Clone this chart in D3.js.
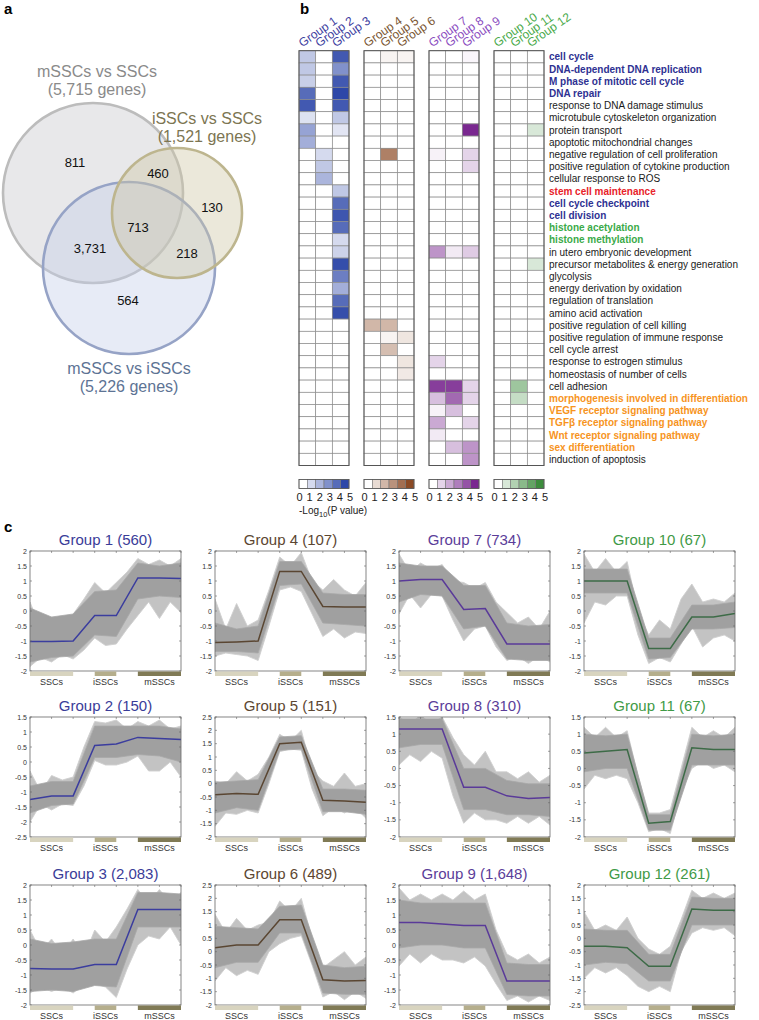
<!DOCTYPE html>
<html><head><meta charset="utf-8">
<script src="https://cdn.jsdelivr.net/npm/d3@7"></script>
<style>body{margin:0;background:#fff} svg{display:block} text{font-family:"Liberation Sans",Arial,sans-serif}</style>
</head><body>
<svg id="fig" width="759" height="1020"></svg>
<script>
// ---------------- DATA ----------------
// Panel a: Venn
const vennSets = ["mSSCs vs SSCs", "iSSCs vs SSCs", "mSSCs vs iSSCs"];
const vennTotals = [5715, 1521, 5226];
const vennCounts = [811, 460, 130, 713, 3731, 218, 564];

// Panel b: heatmap
const heatGroups = ["Group 1","Group 2","Group 3","Group 4","Group 5","Group 6","Group 7","Group 8","Group 9","Group 10","Group 11","Group 12"];
const goTerms = ["cell cycle","DNA-dependent DNA replication","M phase of mitotic cell cycle","DNA repair","response to DNA damage stimulus","microtubule cytoskeleton organization","protein transport","apoptotic mitochondrial changes","negative regulation of cell proliferation","positive regulation of cytokine production","cellular response to ROS","stem cell maintenance","cell cycle checkpoint","cell division","histone acetylation","histone methylation","in utero embryonic development","precursor metabolites & energy generation","glycolysis","energy derivation by oxidation","regulation of translation","amino acid activation","positive regulation of cell killing","positive regulation of immune response","cell cycle arrest","response to estrogen stimulus","homeostasis of number of cells","cell adhesion","morphogenesis involved in differentiation","VEGF receptor signaling pathway","TGF\u03b2 receptor signaling pathway","Wnt receptor signaling pathway","sex differentiation","induction of apoptosis"];
const termClass = ["b","b","b","b","k","k","k","k","k","k","k","r","b","b","g","g","k","k","k","k","k","k","k","k","k","k","k","k","o","o","o","o","o","k"];
const heatValues = [
 [1.5,0,4.5, 0,0.3,0.3, 0,0,0.2, 0,0,0],
 [1.5,0,3.0, 0,0,0, 0,0,0, 0,0,0],
 [1.3,0,4.5, 0,0,0, 0,0,0, 0,0,0],
 [4.0,0,5.0, 0,0,0, 0,0,0, 0,0,0],
 [4.5,0,4.5, 0,0,0, 0,0,0, 0,0,0],
 [0.8,0,1.5, 0,0,0, 0,0,0, 0,0,0],
 [2.5,0,0.7, 0,0,0, 0,0,5.0, 0,0,1.0],
 [2.2,0,0, 0,0,0, 0,0,0, 0,0,0],
 [0,1.0,0, 0,3.5,0, 0.3,0,1.0, 0,0,0],
 [0,1.5,0, 0,0,0, 0,0,1.0, 0,0,0],
 [0,2.0,0, 0,0,0, 0,0,0, 0,0,0],
 [0,0,1.5, 0,0,0, 0,0,0, 0,0,0],
 [0,0,4.0, 0,0,0, 0,0,0, 0,0,0],
 [0,0,4.6, 0,0,0, 0,0,0, 0,0,0],
 [0,0,4.0, 0,0,0, 0,0,0, 0,0,0],
 [0,0,1.0, 0,0,0, 0,0,0, 0,0,0],
 [0,0,1.2, 0,0,0, 2.5,0.5,1.2, 0,0,0],
 [0,0,4.8, 0,0,0, 0,0,0, 0,0,1.0],
 [0,0,3.5, 0,0,0, 0,0,0, 0,0,0],
 [0,0,2.2, 0,0,0, 0,0,0, 0,0,0],
 [0,0,4.0, 0,0,0, 0,0,0, 0,0,0],
 [0,0,4.8, 0,0,0, 0,0,0, 0,0,0],
 [0,0,0, 2.0,2.0,0, 0,0,0, 0,0,0],
 [0,0,0, 0,0.3,0.7, 0,0,0, 0,0,0],
 [0,0,0, 0,1.8,0, 0,0,0, 0,0,0],
 [0,0,0, 0,0,0.7, 1.0,0,0, 0,0,0],
 [0,0,0, 0,0,0.6, 0,0,0, 0,0,0],
 [0,0,0, 0,0,0, 4.5,4.5,1.0, 0,2.5,0],
 [0,0,0, 0,0,0, 1.5,3.5,1.0, 0,1.5,0],
 [0,0,0, 0,0,0, 0.3,1.5,0, 0,0,0],
 [0,0,0, 0,0,0, 2.0,0,1.0, 0,0,0],
 [0,0,0, 0,0,0, 0.5,0,0, 0,0,0],
 [0,0,0, 0,0,0, 0,1.5,2.5, 0,0,0],
 [0,0,0, 0,0,0, 0,0,2.5, 0,0,0]
];
const legendTicks = [0,1,2,3,4,5];

// Panel c: expression profiles
const profileTitles = ["Group 1 (560)","Group 2 (150)","Group 3 (2,083)","Group 4 (107)","Group 5 (151)","Group 6 (489)","Group 7 (734)","Group 8 (310)","Group 9 (1,648)","Group 10 (67)","Group 11 (67)","Group 12 (261)"];
const sampleGroups = ["SSCs","iSSCs","mSSCs"];
const yDomains = [[-2,2],[-2.5,1.5],[-2,2],[-2,2],[-2,2.5],[-2,2.5],[-2,2],[-2,1.5],[-2,2],[-2,2],[-2,1.5],[-2.5,2]];
const meanLines = [
 [-1.02,-1.02,-1.0,-0.15,-0.15,1.1,1.1,1.08],
 [-1.25,-1.13,-1.13,0.55,0.6,0.82,0.78,0.75],
 [-0.78,-0.8,-0.8,-0.65,-0.65,1.18,1.18,1.18],
 [-1.05,-1.03,-1.0,1.32,1.32,0.15,0.13,0.13],
 [-0.42,-0.37,-0.4,1.5,1.55,-0.62,-0.65,-0.7],
 [0.15,0.25,0.25,1.2,1.2,-1.05,-1.1,-1.08],
 [1.0,1.05,1.05,0.05,0.08,-1.1,-1.1,-1.1],
 [1.15,1.15,1.15,-0.55,-0.55,-0.8,-0.88,-0.85],
 [0.75,0.75,0.7,0.65,0.65,-1.2,-1.2,-1.2],
 [1.0,1.0,1.0,-1.25,-1.25,-0.2,-0.2,-0.08],
 [0.45,0.5,0.55,-1.6,-1.55,0.6,0.55,0.55],
 [-0.3,-0.3,-0.35,-1.05,-1.05,1.1,1.05,1.05]
];
const envHigh = [
 [0.3,-0.6,-0.2,-0.5,-0.1,0.4,0.95,0.6,0.95,1.3,1.75,1.55,1.7,1.5,1.75],
 [-0.3,-1.0,-0.45,-0.6,-0.5,0.5,1.35,1.3,1.4,1.1,1.35,1.2,1.4,1.1,1.2],
 [0.5,-0.2,0.2,-0.3,0.2,-0.4,0.5,0.1,0.6,1.2,1.85,1.4,1.85,1.4,1.75],
 [0.4,-0.6,0.25,-0.5,-0.3,0.7,1.8,1.5,1.95,1.0,0.7,1.05,0.7,0.5,0.95],
 [0.1,0.0,0.45,0.1,0.35,1.0,1.85,1.6,2.0,0.5,0.1,-0.1,0.4,-0.1,0.0],
 [1.4,0.7,1.25,0.8,1.0,1.1,1.9,1.5,2.0,0.5,-0.6,-0.3,0.0,-0.5,-0.2],
 [1.9,1.3,1.6,1.4,1.55,1.0,0.95,0.75,0.95,0.3,-0.05,-0.4,-0.2,-0.6,0.0],
 [1.5,1.3,1.55,1.3,1.5,0.9,0.4,0.1,0.5,-0.1,-0.1,-0.3,-0.1,-0.4,-0.2],
 [1.9,1.5,1.7,1.5,1.7,1.5,1.8,1.5,1.7,0.5,-0.3,-0.5,-0.3,-0.6,-0.4],
 [1.9,1.3,1.75,1.3,1.65,0.0,-0.8,-0.3,-0.6,0.4,0.9,0.3,0.4,0.3,0.6],
 [1.2,0.9,1.2,0.9,1.1,-0.2,-1.3,-1.3,-1.2,0.0,1.2,0.9,1.1,0.9,1.2],
 [1.0,0.3,0.5,0.3,0.8,0.0,-0.4,-0.6,-0.3,0.7,1.8,1.5,1.7,1.5,1.7]
];
const envLow = [
 [-1.85,-1.55,-1.7,-1.45,-1.6,-1.3,-0.9,-1.15,-1.1,-0.6,-0.15,0.3,-0.25,0.3,-0.05],
 [-2.0,-1.4,-1.6,-1.4,-1.45,-0.8,0.05,-0.1,-0.1,0.0,0.2,-0.3,-0.3,0.0,-0.5],
 [-1.6,-1.4,-1.55,-1.4,-1.6,-1.3,-1.3,-1.4,-1.75,-0.8,0.0,0.3,0.2,0.6,0.0],
 [-1.5,-1.4,-1.45,-1.5,-1.65,-0.5,0.7,0.8,0.65,-0.1,-0.85,-0.6,-0.9,-0.7,-0.75],
 [-1.6,-1.1,-1.15,-1.0,-1.1,0.0,1.2,1.3,1.25,-0.2,-1.2,-0.9,-1.1,-0.9,-1.3],
 [-1.1,-0.6,-0.9,-0.7,-0.85,0.0,0.3,0.5,0.6,-0.5,-1.7,-1.5,-1.8,-1.5,-1.75],
 [-0.1,0.55,0.1,0.55,0.5,-0.3,-1.0,-0.6,-0.5,-1.2,-1.65,-1.5,-1.75,-1.5,-1.7],
 [0.1,0.4,0.2,0.5,0.3,-0.8,-1.6,-1.3,-1.5,-1.5,-1.6,-1.4,-1.6,-1.4,-1.65],
 [-0.7,-0.3,-0.6,-0.3,-0.5,-0.5,-0.6,-0.4,-0.7,-1.3,-1.85,-1.7,-1.9,-1.7,-1.85],
 [-0.4,0.3,0.2,0.5,0.5,-0.8,-1.75,-1.55,-1.7,-1.1,-0.5,-1.2,-0.9,-0.8,-1.0],
 [-0.6,-0.2,-0.3,-0.2,-0.3,-1.0,-1.85,-1.75,-1.9,-0.7,0.0,0.2,0.0,0.1,-0.1],
 [-1.5,-1.1,-1.3,-1.1,-1.4,-1.8,-2.0,-1.8,-2.0,-0.5,0.2,0.4,0.3,0.4,0.1]
];
const coreHigh = [
 [0.1,-0.2,-0.1,0.65,0.7,1.6,1.5,1.6],
 [-0.8,-0.65,-0.65,1.2,1.2,1.2,1.2,1.1],
 [0.2,0.05,0.1,0.2,0.2,1.75,1.75,1.7],
 [-0.4,-0.6,-0.5,1.65,1.65,0.6,0.55,0.55],
 [0.05,0.1,0.15,1.75,1.8,-0.2,-0.2,-0.25],
 [0.95,0.9,0.85,1.7,1.75,-0.5,-0.6,-0.55],
 [1.6,1.5,1.5,0.85,0.85,-0.4,-0.5,-0.45],
 [1.45,1.45,1.45,0.0,0.0,-0.35,-0.45,-0.45],
 [1.5,1.4,1.4,1.4,1.4,-0.6,-0.65,-0.65],
 [1.4,1.4,1.4,-0.9,-0.9,0.2,0.2,0.3],
 [1.0,0.95,1.0,-1.35,-1.35,1.0,0.95,1.0],
 [0.35,0.3,0.3,-0.6,-0.6,1.55,1.5,1.5]
];
const coreLow = [
 [-1.7,-1.55,-1.5,-0.8,-0.85,0.4,0.5,0.45],
 [-1.7,-1.45,-1.4,0.15,0.15,0.25,0.2,0.0],
 [-1.55,-1.5,-1.55,-1.35,-1.4,0.6,0.6,0.6],
 [-1.35,-1.35,-1.4,0.85,0.9,-0.4,-0.45,-0.5],
 [-1.1,-0.9,-1.0,1.25,1.3,-1.05,-1.05,-1.15],
 [-0.6,-0.4,-0.4,0.7,0.7,-1.55,-1.6,-1.6],
 [0.3,0.55,0.5,-0.6,-0.5,-1.6,-1.65,-1.65],
 [0.6,0.7,0.7,-1.2,-1.2,-1.35,-1.35,-1.4],
 [-0.1,0.0,0.0,-0.1,-0.1,-1.65,-1.7,-1.7],
 [0.6,0.6,0.6,-1.6,-1.55,-0.6,-0.6,-0.55],
 [-0.1,0.0,0.0,-1.8,-1.8,0.1,0.1,0.1],
 [-1.0,-0.9,-0.95,-1.6,-1.6,0.5,0.5,0.5]
];

// ---------------- STYLE / LAYOUT ----------------
const clusterColors = ["#3a3c98", "#5c4631", "#5b3d99", "#3f9a46"];
const headerColors = ["#3d40a0", "#7a5632", "#8a4cc0", "#4aaa4a"];
const heatMax = ["#2d47a8", "#8b4a25", "#7a2890", "#3c8c3c"];
const meanColors = ["#3b3d9e", "#5a4632", "#5a3a99", "#3d6b47"];
const termColorMap = {b:"#2e3192", k:"#1a1a1a", r:"#e8222a", g:"#3aaa49", o:"#f7941d"};
const barColors = ["#d8d4bf", "#b5ae8c", "#807a55"];

const svg = d3.select("#fig");

[["a",4,14],["b",300,14],["c",4,532]].forEach(([t,x,y]) =>
  svg.append("text").attr("x",x).attr("y",y).attr("font-size",15).attr("font-weight","bold").text(t));

// ---------------- PANEL A ----------------
const vennCircles = [
  {cx:93, cy:193, r:90, fill:"#c6c6ca", stroke:"#bcbcbc"},
  {cx:129, cy:268, r:86, fill:"#c3cde8", stroke:"#96a3c6"},
  {cx:177, cy:213, r:65, fill:"#cdc5a3", stroke:"#bdb58e"}
];
const gv = svg.append("g");
gv.selectAll("circle").data(vennCircles).join("circle")
  .attr("cx",d=>d.cx).attr("cy",d=>d.cy).attr("r",d=>d.r)
  .attr("fill",d=>d.fill).attr("fill-opacity",0.4)
  .attr("stroke",d=>d.stroke).attr("stroke-width",2.6);
const fmt = d3.format(",");
const vennLabelPos = [[97,77,"#8a8a8a"],[207,124,"#7c7552"],[129,374,"#5d7394"]];
vennSets.forEach((s,i)=>{
  const [x,y,c] = vennLabelPos[i];
  gv.append("text").attr("x",x).attr("y",y).attr("text-anchor","middle").attr("font-size",16).attr("fill",c).text(s);
  gv.append("text").attr("x",x).attr("y",y+18).attr("text-anchor","middle").attr("font-size",16).attr("fill",c).text("(" + fmt(vennTotals[i]) + " genes)");
});
const countPos = [[75,162],[158,173],[212,207],[138,227],[90,248],[187,253],[128,300]];
vennCounts.forEach((v,i)=>{
  gv.append("text").attr("x",countPos[i][0]).attr("y",countPos[i][1]+5).attr("text-anchor","middle")
    .attr("font-size",13).attr("fill","#111").text(fmt(v));
});

// ---------------- PANEL B ----------------
const hb = svg.append("g");
const blockX = [299, 364, 429, 494];
const blockW = 50;
const heatTop = 50.7, rowH = 12.2;
const nRows = goTerms.length;
const yRow = d3.scaleLinear().domain([0, nRows]).range([heatTop, heatTop + rowH*nRows]);
blockX.forEach((bx, b) => {
  const color = d3.scaleLinear().domain([0,5]).range(["#ffffff", heatMax[b]]).interpolate(d3.interpolateRgb);
  const xc = d3.scaleBand().domain([0,1,2]).range([bx, bx+blockW]);
  const cells = [];
  heatValues.forEach((row, r) => { for (let k=0;k<3;k++) cells.push({r, k, v: row[b*3+k]}); });
  hb.append("g").selectAll("rect").data(cells).join("rect")
    .attr("x", d=>xc(d.k)).attr("y", d=>yRow(d.r))
    .attr("width", xc.bandwidth()).attr("height", rowH)
    .attr("fill", d=>color(d.v)).attr("stroke","#8c8c8c").attr("stroke-width",0.7);
  hb.append("rect").attr("x",bx).attr("y",heatTop).attr("width",blockW).attr("height",rowH*nRows)
    .attr("fill","none").attr("stroke","#555").attr("stroke-width",1);
  for (let k=0;k<3;k++){
    const cx = xc(k) + xc.bandwidth()/2 - 5;
    hb.append("text").attr("transform",`translate(${cx},47.5) rotate(-35)`)
      .attr("font-size",12).attr("fill",headerColors[b]).text(heatGroups[b*3+k]);
  }
  const lx = d3.scaleBand().domain(legendTicks).range([bx, bx+blockW]);
  hb.append("g").selectAll("rect").data(legendTicks).join("rect")
    .attr("x",d=>lx(d)).attr("y",479.5).attr("width",lx.bandwidth()).attr("height",9)
    .attr("fill",d=>color(d)).attr("stroke","#777").attr("stroke-width",0.6);
  hb.append("rect").attr("x",bx).attr("y",479.5).attr("width",blockW).attr("height",9)
    .attr("fill","none").attr("stroke","#555").attr("stroke-width",0.8);
  const lt = d3.scaleLinear().domain([0,5]).range([bx+0.5, bx+blockW+1]);
  hb.append("g").selectAll("text").data(legendTicks).join("text")
    .attr("x",d=>lt(d)).attr("y",501).attr("text-anchor","middle").attr("font-size",11).attr("fill","#222").text(d=>d);
});
hb.append("g").selectAll("text").data(goTerms).join("text")
  .attr("x",549).attr("y",(d,i)=>yRow(i)+rowH/2+3.6)
  .attr("font-size",10).attr("fill",(d,i)=>termColorMap[termClass[i]])
  .attr("font-weight",(d,i)=>termClass[i]==="k"?"normal":"bold")
  .text(d=>d);
const lg = hb.append("text").attr("x",299).attr("y",514).attr("font-size",10).attr("fill","#222");
lg.append("tspan").text("-Log");
lg.append("tspan").attr("font-size",7.5).attr("dy",3).text("10");
lg.append("tspan").attr("dy",-3).text("(P value)");

// ---------------- PANEL C ----------------
const colX = [30, 215, 399, 584];
const rowY = [551, 717, 885];
const PW = 151, PH = 120;
const defs = svg.append("defs");
profileTitles.forEach((title, gi) => {
  const col = Math.floor(gi/3), row = gi%3;
  const x0 = colX[col], y0 = rowY[row];
  const x = d3.scaleLinear().domain([0,14]).range([x0, x0+PW]);
  const y = d3.scaleLinear().domain(yDomains[gi]).range([y0+PH, y0]);
  const g = svg.append("g");
  const cid = "clip"+gi;
  defs.append("clipPath").attr("id",cid).append("rect").attr("x",x0).attr("y",y0).attr("width",PW).attr("height",PH);
  const pg = g.append("g").attr("clip-path",`url(#${cid})`);
  const outer = d3.area().x((d,i)=>x(i)).y0((d,i)=>y(envLow[gi][i])).y1(d=>y(d));
  pg.append("path").attr("d", outer(envHigh[gi])).attr("fill","#c3c3c3").attr("stroke","#cfcfcf").attr("stroke-width",0.9);
  const core = d3.area().x((d,i)=>x(i*2)).y0((d,i)=>y(coreLow[gi][i])).y1(d=>y(d));
  pg.append("path").attr("d", core(coreHigh[gi])).attr("fill","#a0a0a0").attr("stroke","#a8a8a8").attr("stroke-width",0.8);
  const line = d3.line().x((d,i)=>x(i*2)).y(d=>y(d));
  pg.append("path").attr("d", line(meanLines[gi])).attr("fill","none").attr("stroke",meanColors[col]).attr("stroke-width",1.5);
  g.append("rect").attr("x",x0).attr("y",y0).attr("width",PW).attr("height",PH).attr("fill","none").attr("stroke","#666").attr("stroke-width",0.8);
  const [lo, hi] = yDomains[gi];
  const ticks = d3.range(Math.round(lo*2), Math.round(hi*2)+1).map(v=>v/2);
  ticks.forEach(t => {
    g.append("line").attr("x1",x0).attr("x2",x0+2).attr("y1",y(t)).attr("y2",y(t)).attr("stroke","#666").attr("stroke-width",0.6);
    g.append("line").attr("x1",x0+PW-2).attr("x2",x0+PW).attr("y1",y(t)).attr("y2",y(t)).attr("stroke","#666").attr("stroke-width",0.6);
    g.append("text").attr("x",x0-3).attr("y",y(t)+2.5).attr("text-anchor","end").attr("font-size",7).attr("fill","#333").text(t);
  });
  d3.range(0,15,2).forEach(i => {
    g.append("line").attr("x1",x(i)).attr("x2",x(i)).attr("y1",y0).attr("y2",y0+2).attr("stroke","#666").attr("stroke-width",0.6);
  });
  const spans = [[0,4],[6,8],[10,14]];
  spans.forEach((s,k) => {
    g.append("rect").attr("x",x(s[0])).attr("y",y0+PH+0.5).attr("width",x(s[1])-x(s[0])).attr("height",4.5).attr("fill",barColors[k]);
    g.append("text").attr("x",(x(s[0])+x(s[1]))/2).attr("y",y0+PH+14).attr("text-anchor","middle").attr("font-size",9).attr("fill","#333").text(sampleGroups[k]);
  });
  g.append("text").attr("x",x0+PW/2).attr("y",y0-6).attr("text-anchor","middle").attr("font-size",15).attr("fill",clusterColors[col]).text(title);
});
</script></body></html>
